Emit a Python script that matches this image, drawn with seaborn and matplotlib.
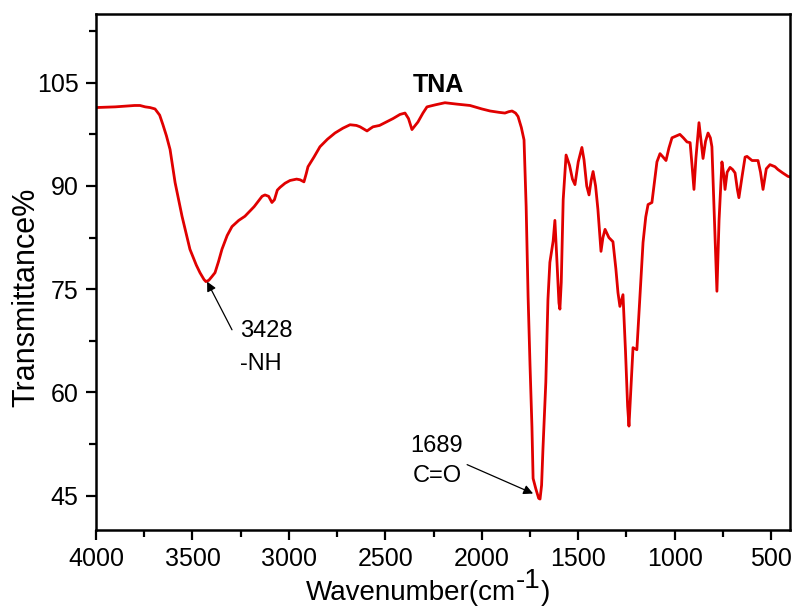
import numpy as np
import pandas as pd
import matplotlib
matplotlib.use("Agg")
import matplotlib.pyplot as plt
from matplotlib.ticker import MultipleLocator
import seaborn as sns

# ---- data ----
wavenumber = [4000, 3900, 3800, 3772, 3745, 3720, 3694, 3670, 3653, 3635, 3616, 3590,
              3554, 3513, 3480, 3461, 3440, 3430, 3415, 3400, 3383, 3365, 3347, 3320,
              3295, 3260, 3228, 3180, 3139, 3124, 3105, 3088, 3075, 3060, 3046, 3020,
              2994, 2960, 2942, 2922, 2910, 2901, 2870, 2839, 2800, 2761, 2720, 2683,
              2650, 2631, 2595, 2580, 2564, 2530, 2502, 2460, 2424, 2398, 2380, 2362,
              2345, 2331, 2305, 2284, 2240, 2191, 2130, 2061, 2000, 1957, 1910, 1880,
              1860, 1843, 1825, 1812, 1795, 1781, 1770, 1760, 1750, 1740, 1734, 1720,
              1705, 1698, 1690, 1683, 1668, 1657, 1647, 1630, 1621, 1612, 1600, 1595,
              1588, 1578, 1563, 1545, 1530, 1517, 1500, 1481, 1470, 1456, 1444, 1433,
              1423, 1410, 1398, 1382, 1372, 1361, 1341, 1320, 1305, 1294, 1284, 1268,
              1255, 1244, 1237, 1228, 1216, 1196, 1180, 1164, 1150, 1138, 1118, 1105,
              1092, 1076, 1060, 1045, 1030, 1014, 998, 973, 955, 936, 920, 910, 900,
              890, 874, 863, 853, 840, 827, 815, 807, 795, 781, 770, 755, 745, 739,
              728, 713, 700, 687, 675, 667, 650, 635, 625, 599, 568, 555, 542, 525,
              506, 480, 465, 440, 413, 400]
transmittance = [101.4, 101.5, 101.7, 101.7, 101.5, 101.4, 101.2, 100.3, 98.9, 97.3, 95.3, 90.5,
                 85.6, 80.8, 78.5, 77.4, 76.4, 76.1, 76.3, 76.8, 77.4, 79.0, 80.8, 82.8,
                 84.1, 85.0, 85.6, 87.0, 88.5, 88.7, 88.5, 87.6, 88.0, 89.4, 89.8, 90.4,
                 90.8, 91.0, 90.9, 90.6, 91.8, 92.8, 94.2, 95.7, 96.8, 97.7, 98.4, 98.9,
                 98.8, 98.6, 98.0, 98.3, 98.6, 98.8, 99.2, 99.8, 100.4, 100.6, 99.8, 98.2,
                 98.8, 99.3, 100.6, 101.5, 101.8, 102.1, 101.9, 101.7, 101.2, 100.9, 100.7, 100.6,
                 100.8, 100.9, 100.6, 100.1, 98.5, 96.7, 87.0, 74.0, 64.0, 55.0, 47.5, 46.0,
                 44.6, 44.5, 46.5, 51.7, 61.5, 73.5, 78.9, 82.0, 85.0, 80.0, 73.0, 72.1,
                 76.0, 88.0, 94.5, 93.0, 91.0, 90.2, 93.5, 95.6, 93.8, 90.0, 88.7, 90.8,
                 92.1, 90.0, 86.6, 80.5, 82.5, 83.7, 82.5, 81.9, 78.0, 74.5, 72.5, 74.2,
                 66.0, 58.0, 55.1, 60.0, 66.5, 66.2, 74.0, 81.8, 85.5, 87.3, 87.6, 90.5,
                 93.5, 94.7, 94.2, 93.7, 95.5, 97.0, 97.2, 97.5, 97.0, 96.4, 96.3, 93.0, 89.5,
                 94.0, 99.2, 96.5, 94.0, 96.5, 97.7, 97.0, 95.7, 86.0, 74.7, 85.0, 93.5, 91.5, 89.5,
                 92.0, 92.7, 92.4, 91.9, 89.5, 88.3, 91.5, 94.2, 94.3, 93.7, 93.7, 92.0, 89.5, 92.5,
                 93.1, 92.8, 92.4, 91.9, 91.4, 91.3]

x_major_ticks = [500, 1000, 1500, 2000, 2500, 3000, 3500, 4000]
y_major_ticks = [45, 60, 75, 90, 105]
sample_name = "TNA"
peak_positions = ["3428", "1689"]
peak_groups = ["-NH", "C=O"]

# ---- style ----
sns.set_style("ticks")
plt.rcParams["font.family"] = ["Liberation Sans", "DejaVu Sans"]
for key in ["text.color", "axes.labelcolor", "xtick.color", "ytick.color", "axes.edgecolor"]:
    plt.rcParams[key] = "black"

df = pd.DataFrame({"Wavenumber": wavenumber, "Transmittance": transmittance})

fig = plt.figure(figsize=(7.96, 6.13), dpi=100)
ax = fig.add_axes([0.1206, 0.1354, 0.8719, 0.8418])

sns.lineplot(data=df, x="Wavenumber", y="Transmittance", ax=ax, color="#e00000",
             linewidth=2.0, sort=False, estimator=None)
for ln in ax.get_lines():
    ln.set_solid_joinstyle("round")
    ln.set_solid_capstyle("round")

ax.set_xlim(4000, 402)
ax.set_ylim(40, 115)
ax.set_xticks(x_major_ticks)
ax.set_yticks(y_major_ticks)
ax.xaxis.set_minor_locator(MultipleLocator(250))
ax.yaxis.set_minor_locator(MultipleLocator(7.5))

for s in ax.spines.values():
    s.set_linewidth(1.8)
    s.set_color("black")
    s.set_visible(True)

ax.tick_params(axis="both", which="major", direction="out", length=7.5, width=1.6,
               labelsize=18, colors="black", pad=5)
ax.tick_params(axis="both", which="minor", direction="out", length=5, width=1.6)

# y label
ax.set_ylabel("Transmittance%", fontsize=22)
ax.yaxis.set_label_coords(-0.079, 0.4516)

# x label with full-size raised superscript
ax.set_xlabel("")
lab = ax.text(0.303, -0.1357, "Wavenumber(cm", transform=ax.transAxes,
              ha="left", va="baseline", fontsize=20, clip_on=False)
sup = ax.annotate("-1", xy=(1, 0), xycoords=lab, xytext=(-0.5, 9),
                  textcoords="offset points", ha="left", va="bottom", fontsize=20)
ax.annotate(")", xy=(1, 0), xycoords=sup, xytext=(0.3, -9),
            textcoords="offset points", ha="left", va="bottom", fontsize=20)

# sample name
ax.text(2356, 103.7, sample_name, fontsize=18, fontweight="bold", ha="left", va="baseline")

# peak annotations
ax.text(3253, 68.0, peak_positions[0], fontsize=17, ha="left", va="baseline")
ax.text(3253, 63.3, peak_groups[0], fontsize=17, ha="left", va="baseline")
ax.annotate("", xy=(3424, 76.1), xytext=(3295, 69.1),
            arrowprops=dict(arrowstyle="-|>", color="black", lw=0.9,
                            mutation_scale=14, shrinkA=0, shrinkB=0))

ax.text(2372, 51.4, peak_positions[1], fontsize=17, ha="left", va="baseline")
ax.text(2356, 47.0, peak_groups[1], fontsize=17, ha="left", va="baseline")
ax.annotate("", xy=(1734, 45.3), xytext=(2076, 49.5),
            arrowprops=dict(arrowstyle="-|>", color="black", lw=0.9,
                            mutation_scale=14, shrinkA=0, shrinkB=0))

fig.savefig("out.png", dpi=100)
